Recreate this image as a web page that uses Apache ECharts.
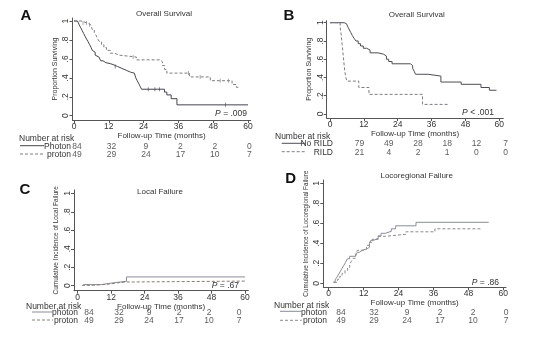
<!DOCTYPE html>
<html>
<head>
<meta charset="utf-8">
<script src="https://cdn.jsdelivr.net/npm/echarts@6/dist/echarts.min.js"></script>
<style>
  html, body { margin: 0; padding: 0; background: #ffffff; }
  #chart { width: 540px; height: 343px; }
</style>
</head>
<body>
<div id="chart"></div>
<script>
// ---- axis ticks ----
const monthTicks = [0, 12, 24, 36, 48, 60];
const probTicks = [0, 0.2, 0.4, 0.6, 0.8, 1];
const probTickLabels = ['0', '.2', '.4', '.6', '.8', '1'];

// ---- Kaplan-Meier / cumulative incidence step points: [month, value] ----
const osPhoton = [
  [0, 1], [1.2, 0.99], [1.8, 0.96], [2.3, 0.93], [2.8, 0.90], [3.3, 0.87], [3.8, 0.84],
  [4.3, 0.81], [4.9, 0.78], [5.4, 0.75], [5.9, 0.72], [6.3, 0.69], [6.8, 0.67], [7.3, 0.64],
  [7.9, 0.62], [8.6, 0.60], [9.2, 0.58], [10.0, 0.56], [11.0, 0.55], [12.5, 0.54], [13.5, 0.52],
  [15.0, 0.50], [16.5, 0.48], [18.0, 0.46], [19.5, 0.45], [20.8, 0.43], [21.3, 0.40],
  [21.8, 0.37], [22.3, 0.34], [22.8, 0.31], [23.3, 0.28], [31.2, 0.25], [32.0, 0.22],
  [33.5, 0.18], [35.5, 0.115], [60, 0.115]
];
const osProton = [
  [0, 1], [2.5, 0.98], [4.5, 0.96], [5.8, 0.94], [6.3, 0.91], [7.0, 0.88], [7.6, 0.85],
  [8.2, 0.81], [8.8, 0.78], [9.5, 0.75], [10.3, 0.72], [11.2, 0.69], [12.5, 0.66],
  [14.0, 0.64], [15.5, 0.62], [21.5, 0.59], [29.8, 0.57], [30.5, 0.53], [31.2, 0.49],
  [32.0, 0.45], [39.8, 0.41], [47.0, 0.37], [54.5, 0.33], [56.0, 0.30], [57.2, 0.30]
];
const osPhotonCensor = [14.2, 25.6, 27.9, 29.5, 52.2];
const osProtonCensor = [3.1, 4.3, 5.4, 20.4, 39.5, 43.5, 50.4, 53.3];

const osNoRild = [
  [0, 1], [5.0, 0.99], [5.8, 0.97], [6.4, 0.95], [6.9, 0.92], [7.4, 0.89], [7.9, 0.86],
  [8.5, 0.83], [9.2, 0.80], [10.0, 0.77], [10.8, 0.745], [11.8, 0.72], [13.0, 0.70],
  [14.2, 0.67], [17.0, 0.655], [19.0, 0.635], [20.0, 0.60], [20.8, 0.575], [22.0, 0.55],
  [28.5, 0.53], [29.3, 0.50], [29.8, 0.47], [30.3, 0.435], [34.8, 0.415], [39.3, 0.35],
  [46.5, 0.325], [53.5, 0.29], [56.5, 0.26], [59, 0.26]
];
const osRild = [
  [0, 1], [3.6, 0.95], [4.0, 0.86], [4.3, 0.76], [4.6, 0.67], [4.9, 0.57], [5.2, 0.48],
  [5.6, 0.40], [6.0, 0.36], [10.2, 0.29], [13.8, 0.215], [32.8, 0.105], [42.2, 0.105]
];

const lfPhoton = [
  [2, 0.012], [8.5, 0.024], [11, 0.036], [14, 0.048], [17.5, 0.095], [60, 0.095]
];
const lfProton = [
  [1.5, 0.004], [5, 0.012], [9, 0.02], [12, 0.03], [14, 0.04], [17.5, 0.05], [60, 0.05]
];

const lrPhoton = [
  [1.5, 0.012], [2.2, 0.035], [2.8, 0.06], [3.4, 0.09], [4.0, 0.12], [4.6, 0.15], [5.2, 0.18],
  [5.8, 0.21], [6.4, 0.245], [7.2, 0.27], [9.2, 0.285], [9.8, 0.31], [10.5, 0.33],
  [11.5, 0.345], [13.2, 0.36], [14.0, 0.40], [14.5, 0.43], [15.5, 0.45], [17.0, 0.475],
  [18.0, 0.50], [19.5, 0.52], [21.5, 0.545], [23.0, 0.575], [30.0, 0.61], [55.0, 0.61]
];
const lrProton = [
  [1.8, 0.01], [3.0, 0.04], [3.8, 0.07], [4.6, 0.10], [5.6, 0.13], [6.5, 0.16], [7.2, 0.19],
  [7.8, 0.22], [8.4, 0.25], [9.2, 0.29], [9.8, 0.33], [12.0, 0.345], [13.0, 0.38],
  [14.0, 0.41], [15.0, 0.44], [17.0, 0.47], [19.5, 0.49], [26.5, 0.515], [36.5, 0.545],
  [52.3, 0.545]
];

// ---- numbers at risk at 0, 12, 24, 36, 48, 60 months ----
const riskPhoton = [84, 32, 9, 2, 2, 0];
const riskProton = [49, 29, 24, 17, 10, 7];
const riskNoRild = [79, 49, 28, 18, 12, 7];
const riskRild = [21, 4, 2, 1, 0, 0];

// ---- rendering ----
const FONT = '"Liberation Sans", Arial, sans-serif';
const AXIS = '#555';
const TEXT = '#333';

const chart = echarts.init(document.getElementById('chart'), null, { renderer: 'canvas' });

const grids = [], xAxes = [], yAxes = [], series = [], graphics = [];

function stepValueAt(curve, t) {
  let v = curve[0][1];
  for (const p of curve) { if (p[0] <= t) v = p[1]; }
  return v;
}

function addPanel(p) {
  const gi = grids.length;
  grids.push({ left: p.grid[0], top: p.grid[1], width: p.grid[2], height: p.grid[3], containLabel: false });
  xAxes.push({
    gridIndex: gi, type: 'value', min: p.xRange[0], max: p.xRange[1],
    axisLine: { show: true, onZero: false, lineStyle: { color: AXIS, width: 1 } },
    axisTick: { show: true, length: 3, customValues: monthTicks, lineStyle: { color: AXIS } },
    axisLabel: { customValues: monthTicks, margin: 2, fontSize: 8.5, color: TEXT, fontFamily: FONT },
    splitLine: { show: false },
    name: 'Follow-up Time (months)', nameLocation: 'middle', nameGap: 9,
    nameTextStyle: { fontSize: 8, color: TEXT, fontFamily: FONT }
  });
  yAxes.push({
    gridIndex: gi, type: 'value', min: p.yRange[0], max: p.yRange[1],
    axisLine: { show: true, onZero: false, lineStyle: { color: AXIS, width: 1 } },
    axisTick: { show: true, length: 3, customValues: probTicks, lineStyle: { color: AXIS } },
    axisLabel: {
      customValues: probTicks, rotate: 90, margin: 2, fontSize: 8.5, color: TEXT, fontFamily: FONT,
      formatter: v => probTickLabels[probTicks.indexOf(v)]
    },
    splitLine: { show: false },
    name: p.yName, nameLocation: 'middle', nameRotate: 90, nameGap: p.yNameGap,
    nameTextStyle: { fontSize: p.yNameSize, color: TEXT, fontFamily: FONT }
  });
  p.curves.forEach(c => {
    series.push({
      type: 'line', xAxisIndex: gi, yAxisIndex: gi, step: 'end', data: c.data,
      symbol: 'none', animation: false, silent: true,
      lineStyle: { color: c.color, width: 1, type: c.dashed ? [3, 2] : 'solid' }
    });
    if (c.censor) {
      series.push({
        type: 'scatter', xAxisIndex: gi, yAxisIndex: gi, animation: false, silent: true,
        symbol: 'rect', symbolSize: [0.8, 4],
        itemStyle: { color: c.color },
        data: c.censor.map(t => [t, stepValueAt(c.data, t)])
      });
    }
  });
  // panel letter and title
  graphics.push({ type: 'text', x: p.letterPos[0], y: p.letterPos[1],
    style: { text: p.letter, font: 'bold 15px "Liberation Sans", Arial, sans-serif', fill: '#111',
      textAlign: 'center', textVerticalAlign: 'middle' } });
  graphics.push({ type: 'text', x: p.titlePos[0], y: p.titlePos[1],
    style: { text: p.title, font: '8px ' + FONT, fill: TEXT, textAlign: 'center', textVerticalAlign: 'middle' } });
  graphics.push({ type: 'text', x: p.pPos[0], y: p.pPos[1],
    style: { text: '{i|P} ' + p.pText, font: '8.5px ' + FONT, fill: TEXT,
      textAlign: 'right', textVerticalAlign: 'middle',
      rich: { i: { fontStyle: 'italic', fontSize: 8.5, fontFamily: FONT, fill: TEXT } } } });

  // numbers-at-risk table on its own hidden month axis
  const ri = grids.length;
  const r = p.risk;
  grids.push({ left: r.x0, top: r.rowY[0], width: r.x60 - r.x0, height: r.rowY[1] - r.rowY[0] });
  xAxes.push({ gridIndex: ri, type: 'value', min: 0, max: 60, show: false });
  yAxes.push({ gridIndex: ri, type: 'value', min: 0, max: 1, inverse: true, show: false });
  r.rows.forEach((row, k) => {
    series.push({
      type: 'scatter', xAxisIndex: ri, yAxisIndex: ri, animation: false, silent: true,
      symbolSize: 1, itemStyle: { color: 'rgba(255,255,255,0)' },
      label: { show: true, position: 'inside', formatter: q => String(q.value[2]),
        fontSize: 8.5, color: TEXT, fontFamily: FONT },
      data: row.values.map((n, j) => [monthTicks[j], k, n])
    });
    graphics.push({ type: 'text', x: r.labelRight, y: r.rowY[k],
      style: { text: row.label, font: '8.5px ' + FONT, fill: TEXT, textAlign: 'right', textVerticalAlign: 'middle' } });
    graphics.push({ type: 'line', shape: { x1: r.keyX[0], y1: r.keyY[k], x2: r.keyX[1], y2: r.keyY[k] },
      style: { stroke: row.color, lineWidth: 1, lineDash: k === 1 ? [3, 2] : null } });
  });
  graphics.push({ type: 'text', x: r.headPos[0], y: r.headPos[1],
    style: { text: 'Number at risk', font: '8.5px ' + FONT, fill: TEXT, textAlign: 'left', textVerticalAlign: 'middle' } });
}

addPanel({
  letter: 'A', letterPos: [26, 16], title: 'Overall Survival', titlePos: [164, 14],
  grid: [72.5, 18, 178.2, 102], xRange: [-0.52, 60.93], yRange: [-0.045, 1.032],
  yName: 'Proportion Surviving', yNameGap: 14, yNameSize: 7,
  pText: '= .009', pPos: [247, 114],
  curves: [
    { data: osPhoton, color: '#45454f', censor: osPhotonCensor },
    { data: osProton, color: '#7c7c84', dashed: true, censor: osProtonCensor }
  ],
  risk: { x0: 77, x60: 249.3, rowY: [146.7, 154.7], labelRight: 71, keyX: [20, 44], keyY: [145.7, 154],
    headPos: [19, 139],
    rows: [
      { label: 'Photon', values: riskPhoton, color: '#45454f' },
      { label: 'proton', values: riskProton, color: '#7c7c84' }
    ] }
});

addPanel({
  letter: 'B', letterPos: [289, 16], title: 'Overall Survival', titlePos: [416.7, 15],
  grid: [326.7, 20.7, 176.6, 97.3], xRange: [-1.17, 61.42], yRange: [-0.044, 1.022],
  yName: 'Proportion Surviving', yNameGap: 14, yNameSize: 7,
  pText: '< .001', pPos: [494, 112.7],
  curves: [
    { data: osNoRild, color: '#4e4e56' },
    { data: osRild, color: '#7c7c84', dashed: true }
  ],
  risk: { x0: 359.6, x60: 505.6, rowY: [144, 152.7], labelRight: 333, keyX: [281.7, 305], keyY: [143.3, 151.7],
    headPos: [275, 136.7],
    rows: [
      { label: 'No RILD', values: riskNoRild, color: '#4e4e56' },
      { label: 'RILD', values: riskRild, color: '#7c7c84' }
    ] }
});

addPanel({
  letter: 'C', letterPos: [25, 190], title: 'Local Failure', titlePos: [160, 191.7],
  grid: [74, 190, 174.3, 100.7], xRange: [-1.33, 61.18], yRange: [-0.054, 1.036],
  yName: 'Cumulative Incidence of Local Failure', yNameGap: 14, yNameSize: 6.5,
  pText: '= .67', pPos: [239, 285.7],
  curves: [
    { data: lfPhoton, color: '#8a8d97' },
    { data: lfProton, color: '#8a7c74', dashed: true }
  ],
  risk: { x0: 89, x60: 239, rowY: [312.7, 320.7], labelRight: 78, keyX: [32, 53], keyY: [312, 320],
    headPos: [26, 306.3],
    rows: [
      { label: 'photon', values: riskPhoton, color: '#8a8d97' },
      { label: 'proton', values: riskProton, color: '#8a7c74' }
    ] }
});

addPanel({
  letter: 'D', letterPos: [290.7, 179.3], title: 'Locoregional Failure', titlePos: [416.7, 175.7],
  grid: [323.3, 180, 182.7, 107.3], xRange: [-1.86, 60.93], yRange: [-0.04, 1.033],
  yName: 'Cumulative Incidence of Locoregional Failure', yNameGap: 14, yNameSize: 6.3,
  pText: '= .86', pPos: [499, 282.7],
  curves: [
    { data: lrPhoton, color: '#8a8d97' },
    { data: lrProton, color: '#8a8a8a', dashed: true }
  ],
  risk: { x0: 341, x60: 506, rowY: [312.7, 320.7], labelRight: 327, keyX: [280, 301.7], keyY: [311.3, 320.3],
    headPos: [274, 306],
    rows: [
      { label: 'photon', values: riskPhoton, color: '#8a8d97' },
      { label: 'proton', values: riskProton, color: '#8a8a8a' }
    ] }
});

chart.setOption({
  animation: false,
  backgroundColor: '#ffffff',
  grid: grids,
  xAxis: xAxes,
  yAxis: yAxes,
  series: series,
  graphic: graphics
});
</script>
</body>
</html>
